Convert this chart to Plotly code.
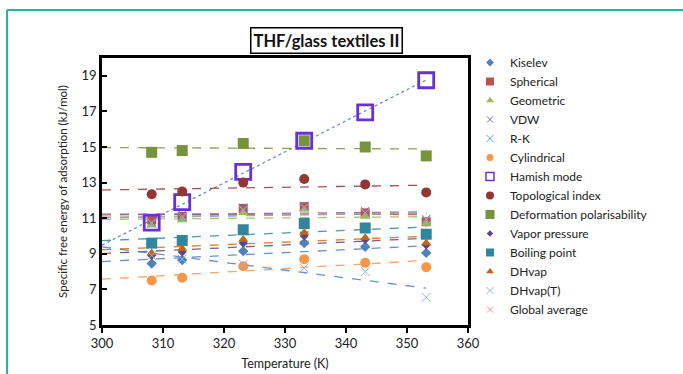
import numpy as np
import plotly.graph_objects as go

# ---------------- data ----------------
temps = [308.15, 313.15, 323.15, 333.15, 343.15, 353.15]

kiselev = [8.45, 8.65, 9.15, 9.6, 9.4, 9.05]
spherical = [10.9, 11.1, 11.55, 11.65, 11.3, 10.8]
geometric = [10.6, 10.9, 11.3, 11.5, 11.1, 10.7]
vdw = [10.8, 11.2, 11.6, 11.7, 11.4, 10.95]
rk = [10.7, 11.0, 11.5, 11.6, 11.3, 10.9]
cylindrical = [7.5, 7.65, 8.3, 8.7, 8.5, 8.25]
hamish = [10.75, 11.9, 13.6, 15.35, 16.95, 18.75]
topological = [12.35, 12.5, 13.0, 13.2, 12.9, 12.45]
deformation = [14.7, 14.8, 15.2, 15.35, 15.0, 14.5]
vapor = [8.9, 9.1, 9.6, 10.0, 9.8, 9.5]
boiling = [9.6, 9.75, 10.35, 10.7, 10.45, 10.1]
dhvap = [9.05, 9.3, 9.8, 10.2, 9.9, 9.6]
dhvap_t = [8.9, 8.7, 8.4, 8.2, 8.0, 6.55]
global_avg = [10.75, 11.1, 11.45, 11.6, 11.3, 10.95]

x_ticks = [300, 310, 320, 330, 340, 350, 360]
y_ticks = [5, 7, 9, 11, 13, 15, 17, 19]

# name, values, plot marker, legend marker, trendline colour
series = [
    ("Kiselev", kiselev, dict(symbol="diamond", size=8, color="#4F81BD"),
     dict(symbol="diamond", size=6, color="#4F81BD"), "#4F81BD"),
    ("Spherical", spherical, dict(symbol="square", size=9, color="#C0504D"),
     dict(symbol="square", size=8, color="#C0504D"), "#C0504D"),
    ("Geometric", geometric, dict(symbol="triangle-up", size=9, color="#9BBB59"),
     dict(symbol="triangle-up", size=7, color="#9BBB59"), "#9BBB59"),
    ("VDW", vdw, dict(symbol="x-thin", size=8, color="#8064A2", line=dict(width=1, color="#8064A2")),
     dict(symbol="x-thin", size=6, color="#8064A2", line=dict(width=1, color="#8064A2")), "#8064A2"),
    ("R-K", rk, dict(symbol="x-thin", size=8, color="#4BACC6", line=dict(width=1, color="#4BACC6")),
     dict(symbol="x-thin", size=7, color="#4BACC6", line=dict(width=1, color="#4BACC6")), "#4BACC6"),
    ("Cylindrical", cylindrical, dict(symbol="circle", size=10, color="#F79646"),
     dict(symbol="circle", size=7, color="#F79646"), "#F79646"),
    ("Hamish mode", hamish, dict(symbol="square-open", size=15, color="#6A2FD6", line=dict(width=2.8, color="#6A2FD6")),
     dict(symbol="square-open", size=8, color="#6A2FD6", line=dict(width=1.5, color="#6A2FD6")), "#5A7FA8"),
    ("Topological index", topological, dict(symbol="circle", size=10, color="#943634"),
     dict(symbol="circle", size=8, color="#943634"), "#943634"),
    ("Deformation polarisability", deformation, dict(symbol="square", size=11, color="#77933C"),
     dict(symbol="square", size=9, color="#77933C"), "#77933C"),
    ("Vapor pressure", vapor, dict(symbol="diamond", size=7, color="#5F497A"),
     dict(symbol="diamond", size=5, color="#5F497A"), "#5F497A"),
    ("Boiling point", boiling, dict(symbol="square", size=11, color="#31859C"),
     dict(symbol="square", size=8, color="#31859C"), "#31859C"),
    ("DHvap", dhvap, dict(symbol="triangle-up", size=9, color="#C0651A"),
     dict(symbol="triangle-up", size=7, color="#C0651A"), "#E46C0A"),
    ("DHvap(T)", dhvap_t, dict(symbol="x-thin", size=9, color="#8DB4E2", line=dict(width=1, color="#8DB4E2")),
     dict(symbol="x-thin", size=7, color="#8DB4E2", line=dict(width=1, color="#8DB4E2")), "#4F81BD"),
    ("Global average", global_avg, dict(symbol="x-thin", size=8, color="#E6B9B8", line=dict(width=1, color="#D99694")),
     dict(symbol="x-thin", size=6, color="#D99694", line=dict(width=1, color="#D99694")), "#D99694"),
]

fig = go.Figure()

# trendlines (linear fits of each series)
tx = np.array([300.0, temps[-1]])
for name, vals, mk, lmk, tcol in series:
    k, b = np.polyfit(temps, vals, 1)
    dash = "dot" if name == "Hamish mode" else "dash"
    fig.add_trace(go.Scatter(x=tx, y=k * tx + b, mode="lines",
                             line=dict(color=tcol, width=1.3, dash=dash),
                             opacity=0.85, showlegend=False, hoverinfo="skip"))

# markers
for name, vals, mk, lmk, tcol in series:
    fig.add_trace(go.Scatter(x=temps, y=vals, mode="markers", name=name, marker=mk,
                             showlegend=False))

# legend entries (small markers, like the reference legend)
for name, vals, mk, lmk, tcol in series:
    fig.add_trace(go.Scatter(x=[None], y=[None], mode="markers", name=name, marker=lmk,
                             showlegend=True))

font_family = "Lato, 'Open Sans', sans-serif"

fig.update_layout(
    width=683, height=374,
    margin=dict(l=102, r=215, t=58, b=49, autoexpand=False),
    paper_bgcolor="white", plot_bgcolor="white",
    font=dict(family=font_family, size=11, color="#222"),
    showlegend=True,
    legend=dict(xref="container", yref="container", x=470 / 683, y=1 - 48 / 374,
                xanchor="left", yanchor="top", maxheight=1.0,
                font=dict(size=12, color="#222"), itemsizing="trace",
                tracegroupgap=0, bgcolor="rgba(0,0,0,0)"),
    xaxis=dict(range=[300, 360], tickvals=x_ticks, showgrid=False, zeroline=False,
               showline=True, linecolor="black", linewidth=2.5, mirror=True,
               ticks="outside", ticklen=5, tickwidth=2, tickcolor="black",
               tickfont=dict(size=13, color="#222"),
               title=dict(text="Temperature (K)", font=dict(size=12.5), standoff=9)),
    yaxis=dict(range=[5, 20], tickvals=y_ticks, showgrid=False, zeroline=False,
               showline=True, linecolor="black", linewidth=2.5, mirror=True,
               ticks="inside", ticklen=5, tickwidth=2, tickcolor="black",
               tickfont=dict(size=13, color="#222"),
               title=dict(text="Specific free energy of adsorption (kJ/mol)", font=dict(size=11.5), standoff=12)),
)

# title box
fig.add_annotation(xref="paper", yref="paper", x=(326 - 102) / 366, y=(325 - 40) / 267,
                   text="<b>THF/glass textiles II</b>", showarrow=False,
                   font=dict(size=16.5, color="#111", family=font_family),
                   bordercolor="black", borderwidth=1.5, borderpad=2, bgcolor="white",
                   xanchor="center", yanchor="middle")

# teal frame of the figure panel
fig.add_shape(type="line", xref="paper", yref="paper",
              x0=(7 - 102) / 366, x1=(690 - 102) / 366, y0=(325 - 10) / 267, y1=(325 - 10) / 267,
              line=dict(color="#2BB3A0", width=2))
fig.add_shape(type="line", xref="paper", yref="paper",
              x0=(7 - 102) / 366, x1=(7 - 102) / 366, y0=(325 - 10) / 267, y1=(325 - 380) / 267,
              line=dict(color="#2BB3A0", width=2))

fig.write_html("out.html", config={"displayModeBar": False},
               post_script="document.body.style.margin='0';")
